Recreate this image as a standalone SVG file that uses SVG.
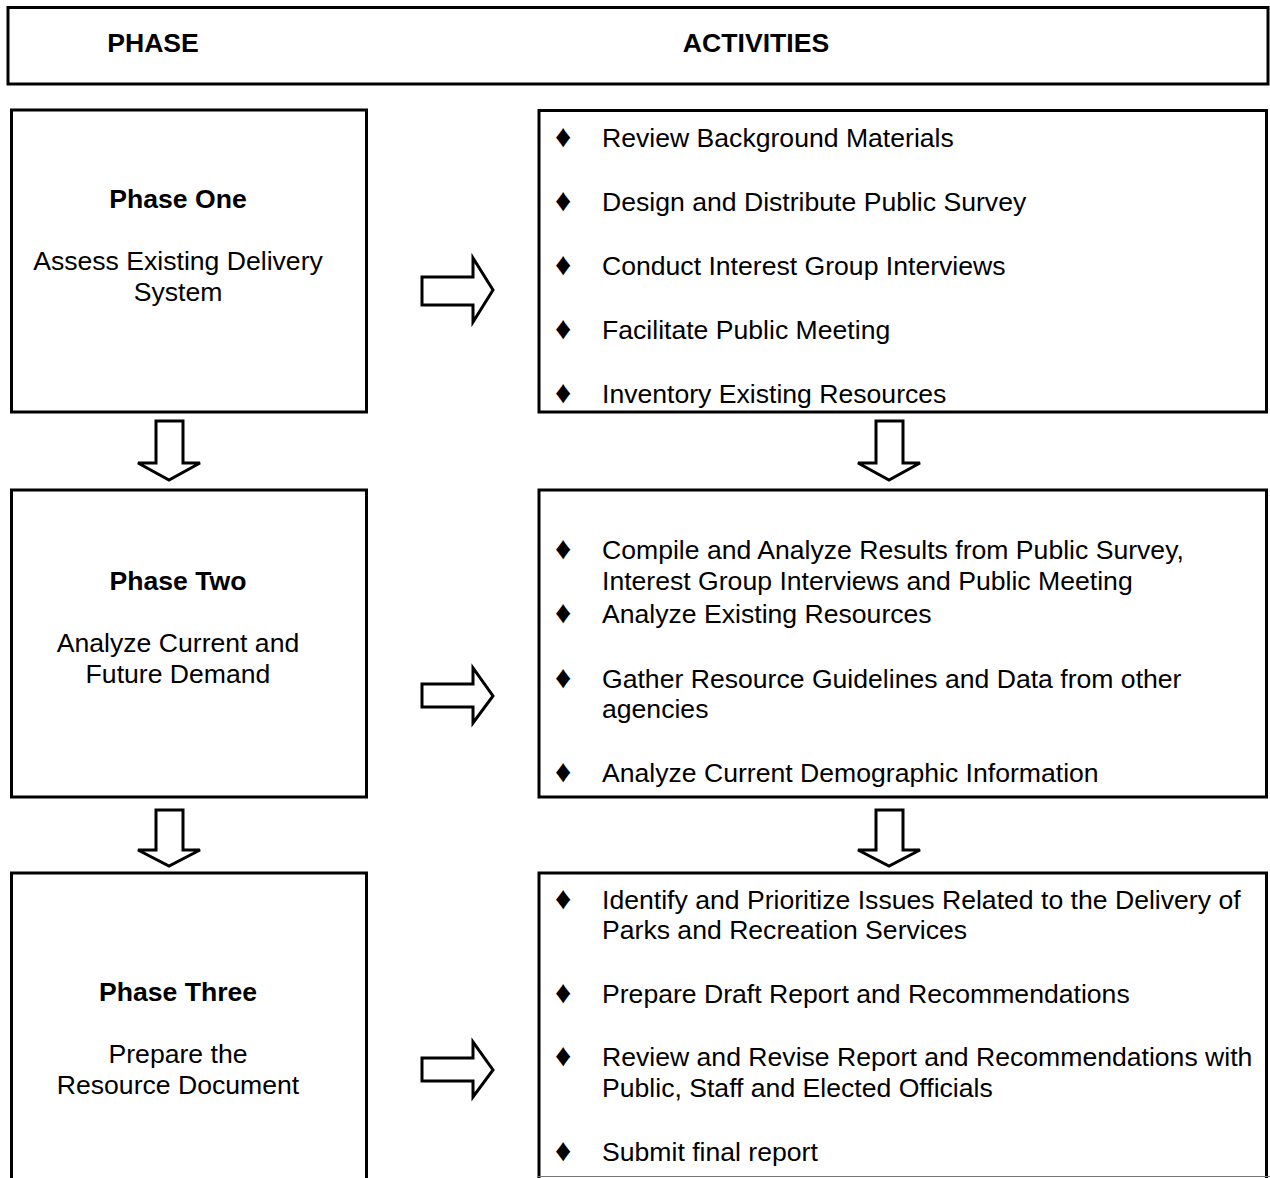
<svg xmlns="http://www.w3.org/2000/svg" width="1270" height="1178" viewBox="0 0 1270 1178">
<style>
.box{fill:#fff;stroke:#000;stroke-width:3}
.arr{fill:#fff;stroke:#000;stroke-width:3;stroke-linejoin:miter}
text{font-family:"Liberation Sans",Arial,sans-serif;font-size:26.6px;fill:#000}
.b{font-weight:bold}
.c{text-anchor:middle}
.d{font-size:32px}
</style>
<rect width="1270" height="1178" fill="#fff"/>
<g id="header">
<rect class="box" x="8" y="7.5" width="1260" height="76.5"/>
<text class="b c" x="153" y="51.5">PHASE</text>
<text class="b c" x="756" y="51.5">ACTIVITIES</text>
</g>
<g id="phase1">
<rect class="box" x="11.5" y="110" width="355" height="302"/>
<text class="b c" x="178" y="207.5">Phase One</text>
<text class="c" x="178" y="269.5">Assess Existing Delivery</text>
<text class="c" x="178" y="300.5">System</text>
</g>
<g id="phase2">
<rect class="box" x="11.5" y="490" width="355" height="307"/>
<text class="b c" x="178" y="589.5">Phase Two</text>
<text class="c" x="178" y="651.5">Analyze Current and</text>
<text class="c" x="178" y="682.5">Future Demand</text>
</g>
<g id="phase3">
<path class="box" d="M11.5 1180 V873 H366.5 V1180"/>
<text class="b c" x="178" y="1000.5">Phase Three</text>
<text class="c" x="178" y="1062.5">Prepare the</text>
<text class="c" x="178" y="1093.5">Resource Document</text>
</g>
<g id="activities1">
<rect class="box" x="539" y="110.5" width="727.5" height="301.5"/>
<text class="d" x="555" y="147">♦</text><text x="602" y="146.5">Review Background Materials</text>
<text class="d" x="555" y="211">♦</text><text x="602" y="210.5">Design and Distribute Public Survey</text>
<text class="d" x="555" y="275">♦</text><text x="602" y="274.5">Conduct Interest Group Interviews</text>
<text class="d" x="555" y="339">♦</text><text x="602" y="338.5">Facilitate Public Meeting</text>
<text class="d" x="555" y="403">♦</text><text x="602" y="402.5">Inventory Existing Resources</text>
</g>
<g id="activities2">
<rect class="box" x="539" y="490" width="727.5" height="307"/>
<text class="d" x="555" y="559">♦</text><text x="602" y="558.5">Compile and Analyze Results from Public Survey,</text>
<text x="602" y="589.5">Interest Group Interviews and Public Meeting</text>
<text class="d" x="555" y="623">♦</text><text x="602" y="622.5">Analyze Existing Resources</text>
<text class="d" x="555" y="688">♦</text><text x="602" y="687.5">Gather Resource Guidelines and Data from other</text>
<text x="602" y="717.5">agencies</text>
<text class="d" x="555" y="782">♦</text><text x="602" y="781.5">Analyze Current Demographic Information</text>
</g>
<g id="activities3">
<path class="box" d="M539 1180 V873 H1266.5 V1180"/>
<line x1="537" y1="1176.5" x2="1270" y2="1176.5" stroke="#777" stroke-width="1"/>
<text class="d" x="555" y="909">♦</text><text x="602" y="908.5">Identify and Prioritize Issues Related to the Delivery of</text>
<text x="602" y="938.5">Parks and Recreation Services</text>
<text class="d" x="555" y="1003">♦</text><text x="602" y="1002.5">Prepare Draft Report and Recommendations</text>
<text class="d" x="555" y="1066">♦</text><text x="602" y="1065.5">Review and Revise Report and Recommendations with</text>
<text x="602" y="1096.5">Public, Staff and Elected Officials</text>
<text class="d" x="555" y="1161">♦</text><text x="602" y="1160.5">Submit final report</text>
</g>
<g id="connectors">
<polygon class="arr" points="422,277 473,277 473,258 493,290 473,322 473,305 422,305"/>
<polygon class="arr" points="422,684 473,684 473,668 493,696 473,723 473,707 422,707"/>
<polygon class="arr" points="422,1058 473,1058 473,1042 493,1070 473,1097 473,1081 422,1081"/>
<polygon class="arr" points="156,421 183,421 183,463 200,463 169,480 138,463 156,463"/>
<polygon class="arr" points="876,421 903,421 903,463 920,463 889,480 858,463 876,463"/>
<polygon class="arr" points="156,810 183,810 183,850 200,850 169,866 138,850 156,850"/>
<polygon class="arr" points="876,810 903,810 903,850 920,850 889,866 858,850 876,850"/>
</g>
</svg>
